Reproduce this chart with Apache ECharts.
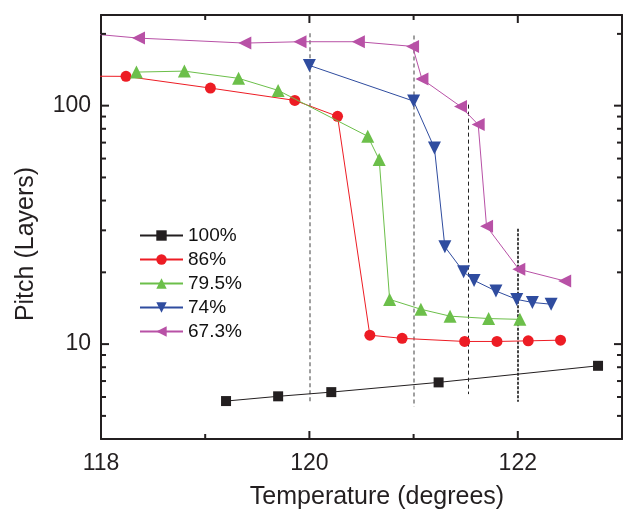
<!DOCTYPE html>
<html>
<head>
<meta charset="utf-8">
<script src="https://cdn.jsdelivr.net/npm/echarts@6/dist/echarts.min.js"></script>
<style>
  html, body { margin: 0; padding: 0; background: #fff; }
  #chart { width: 625px; height: 511px; }
</style>
</head>
<body>
<div id="chart"></div>
<script>
// values
var seriesNames = ['100%', '86%', '79.5%', '74%', '67.3%'];

var temp100 = [119.20, 119.70, 120.21, 121.24, 122.77];
var pitch100 = [5.77, 6.04, 6.29, 6.91, 8.11];

var temp86 = [117.8, 118.24, 119.05, 119.86, 120.27, 120.58, 120.89, 121.49, 121.80, 122.10, 122.41];
var pitch86 = [133, 132.7, 118.5, 105.2, 90.2, 10.9, 10.57, 10.26, 10.26, 10.32, 10.39];

var temp795 = [118.34, 118.80, 119.32, 119.70, 120.56, 120.67, 120.77, 121.07, 121.35, 121.72, 122.02];
var pitch795 = [138.3, 139.6, 130.2, 115.9, 74.4, 59.4, 15.4, 14.0, 13.1, 12.8, 12.7];

var temp74 = [120.0, 121.0, 121.2, 121.3, 121.48, 121.58, 121.79, 121.99, 122.14, 122.32];
var pitch74 = [147.5, 104.5, 66.4, 25.6, 20.1, 18.5, 16.7, 15.4, 14.95, 14.7];

var temp673 = [117.8, 118.36, 119.38, 119.91, 120.47, 120.99, 121.08, 121.45, 121.62, 121.70, 122.01, 122.45];
var pitch673 = [202, 192, 183, 185.4, 185.4, 177.2, 129.3, 99.3, 83.3, 31.2, 20.6, 18.4];

// dashed guide lines
var guideTemps = [120, 121, 121.52, 122];
var guideTop = [201, 197, 101, 30.5];
var guideBottom = [5.66, 5.46, 6.17, 5.73];

// ticks
var xMin = 118, xMax = 123;
var xMajor = [118, 120, 122];
var xMinor = [119, 121];
var yMajor = [10, 100];
var yMinor = [5, 6, 7, 8, 9, 20, 30, 40, 50, 60, 70, 80, 90, 200];
var yMin = 4, yMax = 240;

var colors = ['#231f20', '#ed1c24', '#6cbf4a', '#2f4c9f', '#b851a6'];
var symbols = ['rect', 'circle', 'triangle', 'triangle', 'triangle'];
var rotations = [0, 0, 0, 180, 90];
var sizes = [10, 11, 13, 13, 13];

var font = 'Liberation Sans, Arial, sans-serif';
var ink = '#231f20';

(function () {
    function zip(xs, ys) {
        return xs.map(function (x, i) { return [x, ys[i]]; });
    }

    var allData = [
        zip(temp100, pitch100),
        zip(temp86, pitch86),
        zip(temp795, pitch795),
        zip(temp74, pitch74),
        zip(temp673, pitch673)
    ];

    var guideStyles = [
        { color: '#808080', width: 1.5, type: [4, 3] },
        { color: '#808080', width: 1.5, type: [4, 3] },
        { color: '#222', width: 1, type: [4, 3] },
        { color: '#444', width: 2, type: [3, 1.5] }
    ];
    var guideData = guideTemps.map(function (t, i) {
        return [
            { coord: [t, guideTop[i]], lineStyle: guideStyles[i] },
            { coord: [t, guideBottom[i]] }
        ];
    });

    var lineStyleAxis = { color: ink, width: 2 };

    var series = seriesNames.map(function (name, i) {
        return {
            name: name,
            type: 'line',
            data: allData[i],
            xAxisIndex: 0,
            yAxisIndex: 0,
            symbol: symbols[i],
            symbolSize: sizes[i],
            symbolRotate: rotations[i],
            showAllSymbol: true,
            clip: true,
            color: colors[i],
            lineStyle: { color: colors[i], width: 1 },
            itemStyle: { color: colors[i] },
            z: 3 + i
        };
    });
    series[0].markLine = {
        silent: true,
        symbol: 'none',
        label: { show: false },
        data: guideData,
        z: 1
    };

    var titles = [
        {
            type: 'text', x: 377, y: 497,
            style: { text: 'Temperature (degrees)', fontSize: 25, fontFamily: font,
                fill: ink, align: 'center', verticalAlign: 'middle' }
        },
        {
            type: 'text', x: 26, y: 244, rotation: Math.PI / 2,
            style: { text: 'Pitch (Layers)', fontSize: 25, fontFamily: font,
                fill: ink, align: 'center', verticalAlign: 'middle' }
        }
    ];

    var chart = echarts.init(document.getElementById('chart'), null, { renderer: 'canvas' });
    chart.setOption({
        animation: false,
        backgroundColor: '#fff',
        grid: { left: 101, right: 3, top: 15, bottom: 72 },
        xAxis: [
            {
                type: 'value', position: 'bottom', min: xMin, max: xMax,
                axisLine: { onZero: false, lineStyle: lineStyleAxis },
                axisTick: { show: false },
                axisLabel: { customValues: xMajor, margin: 13, fontSize: 23, fontFamily: font, color: ink },
                splitLine: { show: false }
            },
            {
                type: 'value', position: 'top', min: xMin, max: xMax,
                axisLine: { onZero: false, lineStyle: lineStyleAxis },
                axisTick: { show: false },
                axisLabel: { show: false },
                splitLine: { show: false }
            }
        ],
        yAxis: [
            {
                type: 'log', logBase: 10, position: 'left', min: yMin, max: yMax,
                axisLine: { onZero: false, lineStyle: lineStyleAxis },
                axisTick: { show: false },
                axisLabel: { customValues: yMajor, margin: 10, fontSize: 23, fontFamily: font, color: ink },
                splitLine: { show: false }
            },
            {
                type: 'log', logBase: 10, position: 'right', min: yMin, max: yMax,
                axisLine: { onZero: false, lineStyle: lineStyleAxis },
                axisTick: { show: false },
                axisLabel: { show: false },
                splitLine: { show: false }
            }
        ],
        legend: {
            orient: 'vertical',
            left: 139,
            top: 226,
            padding: 0,
            itemWidth: 43,
            itemHeight: 13,
            itemGap: 5,
            data: seriesNames,
            textStyle: { fontSize: 19, fontFamily: font, color: '#111' }
        },
        graphic: titles,
        series: series
    });

    // tick marks on all four sides, placed through the axes' own scales
    var gLeft = chart.convertToPixel({ xAxisIndex: 0 }, xMin);
    var gRight = chart.convertToPixel({ xAxisIndex: 0 }, xMax);
    var gBottom = chart.convertToPixel({ yAxisIndex: 0 }, yMin);
    var gTop = chart.convertToPixel({ yAxisIndex: 0 }, yMax);
    var tickEls = [];
    function tick(x1, y1, x2, y2) {
        tickEls.push({
            type: 'line', silent: true, z: 10,
            shape: { x1: x1, y1: y1, x2: x2, y2: y2 },
            style: { stroke: ink, lineWidth: 2 }
        });
    }
    function xTicks(vals, len) {
        vals.forEach(function (v) {
            var p = chart.convertToPixel({ xAxisIndex: 0 }, v);
            tick(p, gBottom, p, gBottom - len);
            tick(p, gTop, p, gTop + len);
        });
    }
    function yTicks(vals, len) {
        vals.forEach(function (v) {
            var p = chart.convertToPixel({ yAxisIndex: 0 }, v);
            tick(gLeft, p, gLeft + len, p);
            tick(gRight, p, gRight - len, p);
        });
    }
    xTicks(xMajor, 8);
    xTicks(xMinor, 5);
    yTicks(yMajor, 8);
    yTicks(yMinor, 5);

    chart.setOption({ graphic: titles.concat(tickEls) });
})();
</script>
</body>
</html>
